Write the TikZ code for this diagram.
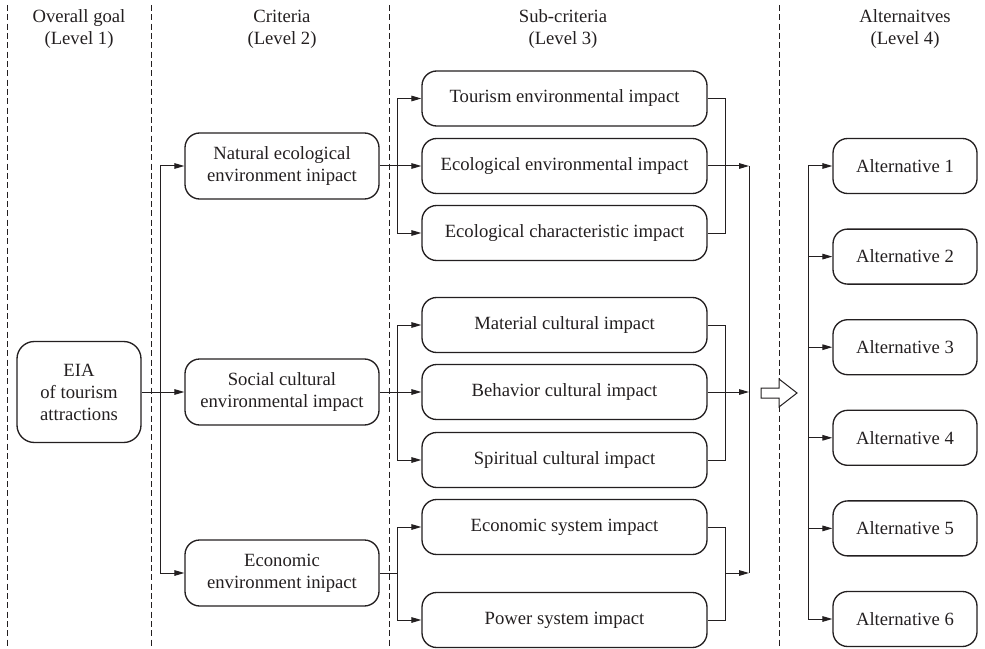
\documentclass[tikz,border=0pt]{standalone}
\usepackage{fontspec}
\setmainfont{Liberation Serif}
\usetikzlibrary{arrows.meta,calc}
\definecolor{ink}{RGB}{35,31,32}
\begin{document}
\begin{tikzpicture}[x=0.75pt,y=-0.75pt,
  txt/.style={font=\fontsize{14}{16.5}\selectfont,text=ink,align=center},
  box/.style={txt,draw=ink,line width=1pt,rounded corners=11pt,inner sep=0pt},
  goalbox/.style={box,minimum width=93pt,minimum height=75.75pt,rounded corners=13pt},
  critbox/.style={box,minimum width=145.5pt,minimum height=49.5pt},
  subbox/.style={box,minimum width=213.75pt,minimum height=41.25pt},
  altbox/.style={box,minimum width=108pt,minimum height=41.25pt},
  conn/.style={draw=ink,line width=0.75pt},
  arr/.style={conn,-{Triangle[length=7.5pt,width=4.2pt]}},
  sep/.style={draw=ink,line width=0.75pt,dash pattern=on 4.5pt off 2.5pt},
  hdr/.style={txt}]
\useasboundingbox (0,0) rectangle (985,649);
% separators
\draw[sep] (7,5) -- (7,649);
\draw[sep] (151,5) -- (151,649);
\draw[sep] (389,5) -- (389,649);
\draw[sep] (779,5) -- (779,649);
% headers
\node[hdr] (h1) at (79,29) {Overall goal\\(Level 1)};
\node[hdr] (h2) at (282,29) {Criteria\\(Level 2)};
\node[hdr] (h3) at (563,29) {Sub-criteria\\(Level 3)};
\node[hdr] (h4) at (905,29) {Alternaitves\\(Level 4)};
% level 1
\node[goalbox] (goal) at (79,392) {EIA\\of tourism\\attractions};
% level 2
\node[critbox] (c1) at (282,166) {Natural ecological\\environment inipact};
\node[critbox] (c2) at (282,392) {Social cultural\\environmental impact};
\node[critbox] (c3) at (282,573) {Economic\\environment inipact};
% level 3
\node[subbox] (s1) at (564.5,98.5) {Tourism environmental impact};
\node[subbox] (s2) at (564.5,166) {Ecological environmental impact};
\node[subbox] (s3) at (564.5,233) {Ecological characteristic impact};
\node[subbox] (s4) at (564.5,325) {Material cultural impact};
\node[subbox] (s5) at (564.5,392) {Behavior cultural impact};
\node[subbox] (s6) at (564.5,460) {Spiritual cultural impact};
\node[subbox] (s7) at (564.5,527) {Economic system impact};
\node[subbox] (s8) at (564.5,620) {Power system impact};
% level 4
\node[altbox] (a1) at (905,166) {Alternative 1};
\node[altbox] (a2) at (905,256.6) {Alternative 2};
\node[altbox] (a3) at (905,347.2) {Alternative 3};
\node[altbox] (a4) at (905,437.8) {Alternative 4};
\node[altbox] (a5) at (905,528.4) {Alternative 5};
\node[altbox] (a6) at (905,619) {Alternative 6};
% level 1 -> 2
\coordinate (b1) at (160,392);
\draw[arr] (goal.east) -- (c2.west);
\draw[arr] (b1) |- (c1.west);
\draw[arr] (b1) |- (c3.west);
% level 2 -> 3
\coordinate (b2) at (397,0);
\draw[arr] (c1.east) -- (s2.west);
\draw[arr] (b2 |- c1.east) |- (s1.west);
\draw[arr] (b2 |- c1.east) |- (s3.west);
\draw[arr] (c2.east) -- (s5.west);
\draw[arr] (b2 |- c2.east) |- (s4.west);
\draw[arr] (b2 |- c2.east) |- (s6.west);
\draw[conn] (c3.east) -- (b2 |- c3.east);
\draw[arr] (b2 |- c3.east) |- (s7.west);
\draw[arr] (b2 |- c3.east) |- (s8.west);
% level 3 collectors
\coordinate (k) at (725,0);
\coordinate (col) at (749,0);
\draw[conn] (s1.east) -- (k |- s1.east) |- (s3.east);
\draw[conn] (s4.east) -- (k |- s4.east) |- (s6.east);
\draw[conn] (s7.east) -- (k |- s7.east) |- (s8.east);
\draw[arr] (s2.east) -- (col |- s2.east);
\draw[arr] (s5.east) -- (col |- s5.east);
\draw[arr] (k |- c3.east) -- (col |- c3.east);
\draw[conn] (col |- s2.east) -- (col |- c3.east);
% big hollow arrow
\draw[draw=ink,line width=0.75pt,fill=white]
  (761,388) -- (779,388) -- (779,379) -- (797,393) -- (779,407) -- (779,398) -- (761,398) -- cycle;
% level 4 distribution
\coordinate (d) at (808,0);
\draw[conn] (d |- a1.west) -- (d |- a6.west);
\foreach \i in {1,...,6}{\draw[arr] (d |- a\i.west) -- (a\i.west);}
\end{tikzpicture}
\end{document}
